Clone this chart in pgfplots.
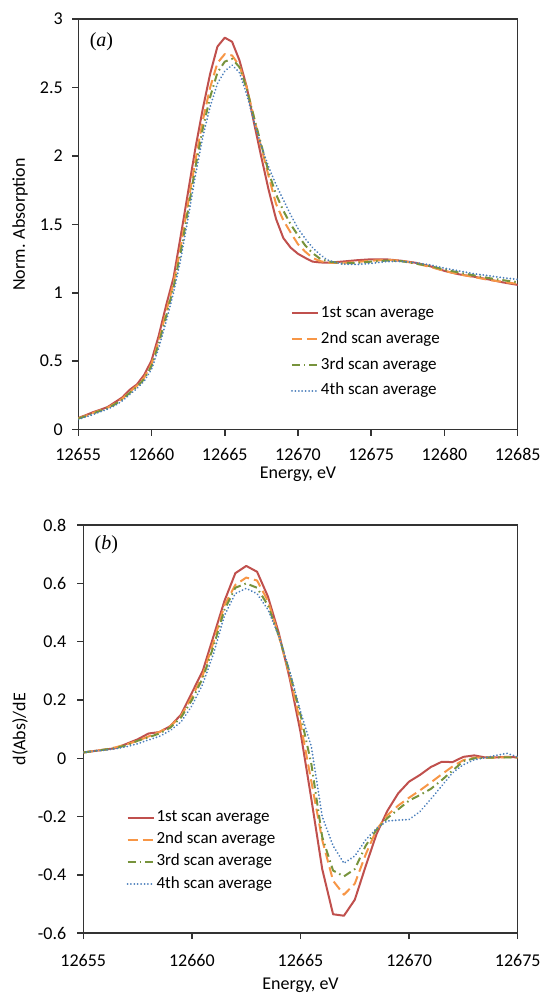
\documentclass[border=0pt]{standalone}
\usepackage{fontspec}
\setmainfont{Carlito}
\newfontfamily\timesfont{Liberation Serif}
\usepackage{pgfplots}
\usepackage{pgfplotstable}
\pgfplotsset{compat=1.18}

\definecolor{scanred}{HTML}{C0504D}
\definecolor{scanorange}{HTML}{F79646}
\definecolor{scangreen}{HTML}{77933C}
\definecolor{scanblue}{HTML}{4A7EBB}
\definecolor{axisgray}{HTML}{333333}

% normalised absorption (a)
\pgfplotstableread{
E        s1     s2     s3     s4
12655    0.085  0.083  0.080  0.075
12655.5  0.105  0.100  0.098  0.092
12656    0.127  0.122  0.118  0.110
12656.5  0.145  0.140  0.137  0.130
12657    0.165  0.160  0.157  0.150
12657.5  0.200  0.190  0.185  0.175
12658    0.235  0.225  0.220  0.210
12658.5  0.290  0.275  0.268  0.255
12659    0.330  0.320  0.312  0.300
12659.5  0.400  0.380  0.370  0.355
12660    0.505  0.480  0.465  0.440
12660.5  0.690  0.650  0.630  0.600
12661    0.910  0.860  0.830  0.790
12661.5  1.110  1.070  1.040  1.000
12662    1.420  1.340  1.300  1.250
12662.5  1.740  1.660  1.610  1.550
12663    2.060  1.970  1.920  1.860
12663.5  2.345  2.260  2.200  2.140
12664    2.600  2.500  2.430  2.360
12664.5  2.800  2.680  2.610  2.530
12665    2.865  2.745  2.690  2.620
12665.5  2.835  2.735  2.710  2.665
12666    2.700  2.660  2.650  2.610
12666.5  2.505  2.500  2.490  2.450
12667    2.240  2.280  2.280  2.250
12667.5  1.990  2.060  2.080  2.070
12668    1.750  1.850  1.880  1.920
12668.5  1.540  1.650  1.720  1.790
12669    1.400  1.530  1.600  1.680
12669.5  1.330  1.440  1.500  1.570
12670    1.285  1.355  1.420  1.470
12670.5  1.255  1.300  1.345  1.395
12671    1.228  1.255  1.290  1.330
12671.5  1.222  1.232  1.250  1.280
12672    1.220  1.220  1.230  1.240
12673    1.228  1.218  1.215  1.210
12674    1.238  1.225  1.218  1.207
12675    1.245  1.235  1.228  1.215
12676    1.245  1.240  1.235  1.228
12677    1.235  1.235  1.232  1.230
12678    1.220  1.215  1.215  1.220
12679    1.195  1.190  1.195  1.205
12680    1.160  1.160  1.170  1.180
12681    1.135  1.135  1.148  1.160
12682    1.118  1.115  1.128  1.140
12683    1.098  1.095  1.108  1.125
12684    1.076  1.080  1.092  1.110
12685    1.058  1.065  1.078  1.098
}\absdata

% first derivative (b)
\pgfplotstableread{
E        s1      s2      s3      s4
12655    0.020   0.020   0.020   0.020
12655.5  0.025   0.025   0.025   0.025
12656    0.030   0.030   0.030   0.028
12656.5  0.035   0.038   0.035   0.033
12657    0.050   0.048   0.045   0.040
12657.5  0.065   0.060   0.060   0.050
12658    0.085   0.075   0.072   0.063
12658.5  0.090   0.090   0.085   0.075
12659    0.110   0.110   0.105   0.095
12659.5  0.150   0.145   0.140   0.125
12660    0.225   0.210   0.200   0.180
12660.5  0.300   0.285   0.275   0.255
12661    0.420   0.400   0.385   0.360
12661.5  0.540   0.525   0.510   0.490
12662    0.635   0.595   0.585   0.565
12662.5  0.660   0.620   0.600   0.583
12663    0.640   0.610   0.585   0.565
12663.5  0.555   0.540   0.525   0.510
12664    0.430   0.420   0.420   0.420
12664.5  0.275   0.285   0.295   0.300
12665    0.090   0.120   0.150   0.160
12665.5 -0.140  -0.080  -0.020   0.040
12666   -0.380  -0.280  -0.270  -0.200
12666.5 -0.535  -0.420  -0.385  -0.300
12667   -0.540  -0.468  -0.405  -0.360
12667.5 -0.485  -0.430  -0.380  -0.335
12668   -0.370  -0.330  -0.300  -0.280
12668.5 -0.260  -0.245  -0.245  -0.240
12669   -0.180  -0.195  -0.205  -0.215
12669.5 -0.120  -0.162  -0.175  -0.212
12670   -0.080  -0.135  -0.145  -0.210
12670.5 -0.057  -0.110  -0.126  -0.183
12671   -0.030  -0.083  -0.105  -0.140
12671.5 -0.012  -0.055  -0.075  -0.095
12672   -0.013  -0.028  -0.042  -0.050
12672.5  0.005  -0.006  -0.010  -0.022
12673    0.010   0.002   0.000  -0.005
12673.5  0.003   0.003   0.002   0.002
12674    0.003   0.002   0.003   0.010
12674.5  0.005   0.004   0.003   0.017
12675    0.003   0.003   0.003   0.005
}\derivdata

\pgfplotsset{
  xanes/.style={
    scale only axis,
    anchor=south west,
    axis line style={draw=axisgray, line width=1.5pt},
    every tick/.style={draw=axisgray, line width=1.5pt},
    tick align=outside,
    tick pos=left,
    major tick length=6pt,
    scaled ticks=false,
    ticklabel style={font=\fontsize{18}{21}\selectfont, text=black},
    label style={font=\fontsize{18}{21}\selectfont},
    /pgf/number format/assume math mode=true,
    xticklabel style={/pgf/number format/set thousands separator={}, /pgf/number format/fixed},
    yticklabel style={/pgf/number format/fixed, /pgf/number format/precision=1},
    legend style={draw=none, fill=none, inner sep=0pt,
      font=\fontsize{17}{20}\selectfont,
      nodes={inner sep=0pt, text height=12pt, text depth=4pt, anchor=west,
        font=\fontsize{17}{20}\selectfont},
      /tikz/every odd column/.append style={column sep=2pt}},
    legend cell align=left,
    legend image code/.code={\draw[##1] (0pt,0pt) -- (26pt,0pt);},
    every axis plot/.append style={line width=2pt, line join=round},
  },
  s1/.style={scanred, solid},
  s2/.style={scanorange, dash pattern=on 10pt off 5pt},
  s3/.style={scangreen, dash pattern=on 8pt off 4pt on 1.5pt off 4pt},
  s4/.style={scanblue, dash pattern=on 0.01pt off 3.4pt, line cap=round},
}

\begin{document}
\begin{tikzpicture}
\path[use as bounding box] (0pt,0pt) rectangle (542pt,-993pt);

\begin{axis}[xanes,
  at={(78.3pt,-429.6pt)},
  width=439.4pt, height=410.4pt,
  xmin=12655, xmax=12685, ymin=0, ymax=3,
  xtick={12655,12660,...,12685},
  ytick={0,0.5,...,3},
  xticklabel shift=9pt,
  yticklabel shift=6pt,
  xlabel={Energy, eV},
  ylabel={Norm. Absorption},
  xlabel style={at={(axis description cs:0.5,-0.108)}, anchor=center},
  ylabel style={at={(axis description cs:-0.1327,0.5)}, anchor=center},
  legend style={at={(axis description cs:0.4836,0.3029)}, anchor=north west, row sep=9.8pt},
]
\addplot[s1] table[x=E, y=s1] {\absdata};
\addplot[s2] table[x=E, y=s2] {\absdata};
\addplot[s3] table[x=E, y=s3] {\absdata};
\addplot[s4] table[x=E, y=s4] {\absdata};
\legend{1st scan average, 2nd scan average, 3rd scan average, 4th scan average}
\node[font=\timesfont\fontsize{20}{24}\selectfont] at (axis description cs:0.0526,0.945) {(\textit{a})};
\end{axis}

\begin{axis}[xanes,
  at={(83.3pt,-933.2pt)},
  width=434.4pt, height=408.1pt,
  xmin=12655, xmax=12675, ymin=-0.6, ymax=0.8,
  xtick={12655,12660,...,12675},
  ytick={-0.6,-0.4,-0.2,0,0.2,0.4,0.6,0.8},
  xticklabel shift=12pt,
  yticklabel shift=7.5pt,
  xlabel={Energy, eV},
  ylabel={d(Abs)/dE},
  xlabel style={at={(axis description cs:0.5,-0.127)}, anchor=center},
  ylabel style={at={(axis description cs:-0.1457,0.5)}, anchor=center},
  legend style={at={(axis description cs:0.099,0.3036)}, anchor=north west, row sep=6.2pt},
]
\addplot[s1] table[x=E, y=s1] {\derivdata};
\addplot[s2] table[x=E, y=s2] {\derivdata};
\addplot[s3] table[x=E, y=s3] {\derivdata};
\addplot[s4] table[x=E, y=s4] {\derivdata};
\legend{1st scan average, 2nd scan average, 3rd scan average, 4th scan average}
\node[font=\timesfont\fontsize{20}{24}\selectfont] at (axis description cs:0.0531,0.9515) {(\textit{b})};
\end{axis}
\end{tikzpicture}
\end{document}
